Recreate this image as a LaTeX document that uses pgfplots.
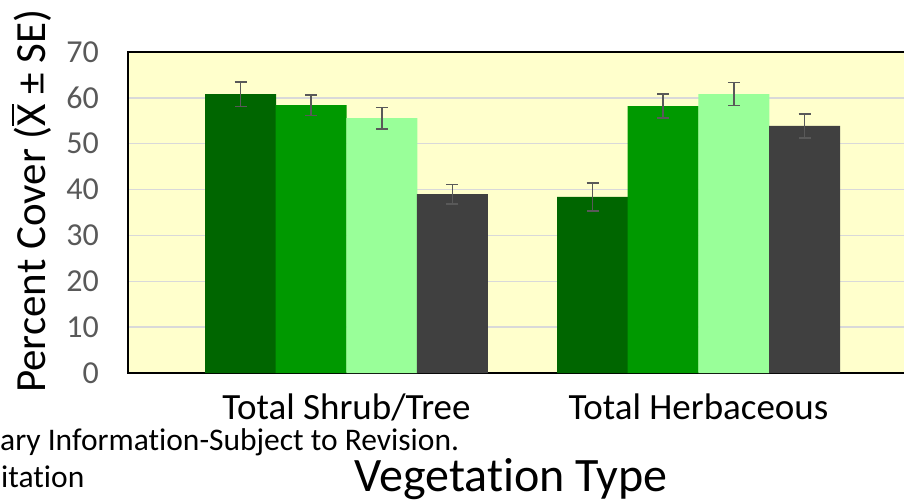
\documentclass[border=0pt]{standalone}
\usepackage{fontspec}
\setmainfont{Carlito}[Ligatures={NoCommon}]
\usepackage{pgfplots}
\pgfplotsset{compat=1.18}
\definecolor{c1}{HTML}{006600}
\definecolor{c2}{HTML}{009900}
\definecolor{c3}{HTML}{99FF99}
\definecolor{c4}{HTML}{404040}
\definecolor{bgc}{HTML}{FFFFCC}
\definecolor{gridc}{HTML}{D9D9D9}
\definecolor{errc}{HTML}{595959}
\newcommand{\xbar}{\ooalign{X\cr\hidewidth\rule[0.72em]{0.5em}{0.055em}\hidewidth\cr}}
\begin{document}
\begin{tikzpicture}
\useasboundingbox (0pt,0pt) rectangle (904pt,501pt);
\begin{scope}
\clip (0pt,0pt) rectangle (904pt,501pt);
\begin{axis}[
  at={(128pt,128pt)}, anchor=south west,
  scale only axis, width=789pt, height=321pt,
  xmin=0.3793, xmax=2.6207, ymin=0, ymax=70,
  ytick={0,10,...,70},
  xtick={1,2}, xticklabels={Total Shrub/Tree, Total Herbaceous},
  major tick length=0pt,
  axis background/.style={fill=bgc},
  ymajorgrids, grid style={gridc, line width=1.5pt},
  axis line style={black, line width=1.5pt},
  /pgf/number format/assume math mode=true,
  yticklabel style={font=\fontsize{32}{38}\selectfont, text=errc, anchor=east, inner sep=0pt, xshift=-29pt},
  xticklabel style={font=\fontsize{37}{44}\selectfont, text=black, anchor=base, inner sep=0pt, yshift=-46pt},
  ybar, bar width=0.2017,
  error bars/error bar style={line width=1.5pt, color=errc},
  error bars/error mark options={rotate=90, mark size=6pt, line width=1.5pt, color=errc},
]
\addplot[fill=c1, draw=none, bar shift=-0.3011, error bars/.cd, y dir=both, y explicit]
  coordinates {(1,60.8) +- (0,2.65) (2,38.4) +- (0,3.05)};
\addplot[fill=c2, draw=none, bar shift=-0.1004, error bars/.cd, y dir=both, y explicit]
  coordinates {(1,58.4) +- (0,2.2) (2,58.2) +- (0,2.6)};
\addplot[fill=c3, draw=none, bar shift=0.1004, error bars/.cd, y dir=both, y explicit]
  coordinates {(1,55.6) +- (0,2.35) (2,60.8) +- (0,2.5)};
\addplot[fill=c4, draw=none, bar shift=0.3011, error bars/.cd, y dir=both, y explicit]
  coordinates {(1,39.0) +- (0,2.15) (2,53.9) +- (0,2.6)};
\end{axis}
\node[rotate=90, anchor=base west, inner sep=0pt, font=\fontsize{43}{50}\selectfont] at (45pt,108pt) {Percent Cover (\xbar\ ± SE)};
\node[anchor=base, inner sep=0pt, font=\fontsize{48}{56}\selectfont] at (511pt,9.3pt) {Vegetation Type};
\node[anchor=base west, inner sep=0pt, font=\fontsize{31.5}{37}\selectfont] at (0pt,51pt) {ary Information-Subject to Revision.};
\node[anchor=base west, inner sep=0pt, font=\fontsize{31.5}{37}\selectfont] at (1pt,14pt) {itation};
\end{scope}
\end{tikzpicture}
\end{document}
